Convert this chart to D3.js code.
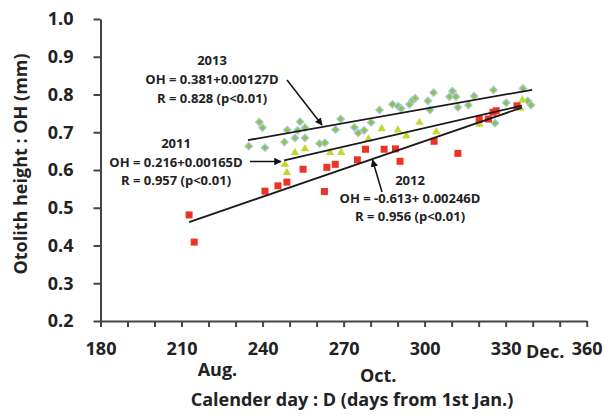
<!DOCTYPE html>
<html lang="en">
  <head>
    <meta charset="utf-8">
    <title>Otolith height</title>
    <script src="https://d3js.org/d3.v7.min.js"></script>
    <style>
      body { margin: 0; background: #fff; }
      text { font-family: "Open Sans", sans-serif; font-weight: bold; fill: #222; }
    </style>
  </head>
  <body>
    <script>
// 2013 (diamonds)
const days2013 = [238.8, 240.0, 234.9, 240.9, 249.1, 253.9, 253.0, 255.7, 248.1, 252.0, 255.7,
  261.1, 263.1, 267.0, 268.9, 274.0, 275.4, 277.6, 280.2, 283.3, 288.1, 290.2, 291.3, 294.4,
  295.5, 296.5, 301.2, 302.0, 303.3, 309.2, 310.3, 311.6, 312.3, 316.2, 318.3, 325.5, 330.2,
  336.4, 338.2, 339.4, 326.1]
const oh2013 = [0.727, 0.712, 0.663, 0.659, 0.706, 0.728, 0.705, 0.712, 0.674, 0.685, 0.685,
  0.670, 0.672, 0.707, 0.735, 0.713, 0.698, 0.705, 0.726, 0.759, 0.774, 0.769, 0.763, 0.774,
  0.785, 0.790, 0.783, 0.759, 0.805, 0.794, 0.809, 0.794, 0.766, 0.772, 0.796, 0.812, 0.778,
  0.816, 0.783, 0.772, 0.724]

// 2011 (triangles)
const days2011 = [252.0, 255.7, 265.0, 269.1, 248.3, 249.0, 279.2, 284.1, 290.1, 293.2, 298.1,
  304.3, 320.3, 336.2, 335.4]
const oh2011 = [0.646, 0.656, 0.646, 0.646, 0.615, 0.593, 0.682, 0.709, 0.706, 0.690, 0.726,
  0.701, 0.721, 0.785, 0.763]

// 2012 (squares)
const days2012 = [212.8, 214.7, 240.9, 245.7, 249.0, 255.0, 263.8, 262.9, 266.9, 275.1, 278.1,
  285.0, 289.2, 290.9, 303.5, 312.3, 320.2, 323.6, 325.3, 326.5, 334.2]
const oh2012 = [0.481, 0.409, 0.544, 0.558, 0.568, 0.602, 0.607, 0.543, 0.615, 0.627, 0.655,
  0.655, 0.656, 0.623, 0.676, 0.644, 0.734, 0.735, 0.753, 0.757, 0.770]

// regression lines: [intercept, slope, first day, last day]
const fit2013 = [0.381, 0.00127, 234.6, 339.8]
const fit2011 = [0.216, 0.00165, 248, 336]
const fit2012 = [-0.0613, 0.00246, 212.8, 336]

const label2013 = ['2013', 'OH = 0.381+0.00127D', 'R = 0.828 (p<0.01)']
const label2011 = ['2011', 'OH = 0.216+0.00165D', 'R = 0.957 (p<0.01)']
const label2012 = ['2012', 'OH = -0.613+ 0.00246D', 'R = 0.956 (p<0.01)']

const yTicks = [0.2, 0.3, 0.4, 0.5, 0.6, 0.7, 0.8, 0.9, 1.0]
const xTicks = d3.range(180, 361, 10)
const xLabels = [180, 210, 240, 270, 300, 330, 360]
const months = ['Aug.', 'Oct.', 'Dec.']
const monthDays = [223.3, 282.8, 344.6]

const width = 604, height = 417

const svg = d3.select('body').append('svg')
  .attr('width', width)
  .attr('height', height)

svg.append('defs').append('marker')
  .attr('id', 'arrow')
  .attr('viewBox', '0 0 10 10')
  .attr('refX', 9).attr('refY', 5)
  .attr('markerWidth', 5).attr('markerHeight', 5)
  .attr('orient', 'auto')
  .append('path')
  .attr('d', 'M0,0L10,5L0,10z')
  .attr('fill', '#111')

const x = d3.scaleLinear().domain([180, 360]).range([100.5, 586.7])
const y = d3.scaleLinear().domain([0.2, 1.0]).range([321, 19])

// axes
const yAxis = svg.append('g')
  .attr('transform', `translate(${x(180)},0)`)
  .call(d3.axisLeft(y).tickValues(yTicks).tickSize(7).tickSizeOuter(0).tickFormat(d3.format('.1f')))
yAxis.selectAll('text').attr('font-size', 18).attr('x', -27)

const xAxis = svg.append('g')
  .attr('transform', `translate(0,${y(0.2)})`)
  .call(d3.axisBottom(x).tickValues(xTicks).tickSize(6).tickSizeOuter(0)
    .tickFormat(d => xLabels.includes(d) ? d : ''))
xAxis.selectAll('text').attr('font-size', 18).attr('dy', '1.4em')

svg.selectAll('.domain, .tick line')
  .attr('stroke', '#444')
  .attr('stroke-width', 2)
svg.selectAll('.tick text').attr('fill', '#222')

// month names under the x axis
const monthRows = [371, 377, 353]
svg.selectAll('.month')
  .data(months)
  .join('text')
  .attr('class', 'month')
  .attr('x', (d, i) => x(monthDays[i]))
  .attr('y', (d, i) => monthRows[i])
  .attr('text-anchor', 'middle')
  .attr('dominant-baseline', 'middle')
  .attr('font-size', 18)
  .text(d => d)

svg.append('text')
  .attr('x', 352)
  .attr('y', 401)
  .attr('text-anchor', 'middle')
  .attr('dominant-baseline', 'middle')
  .attr('font-size', 18)
  .text('Calender day : D (days from 1st Jan.)')

svg.append('text')
  .attr('transform', 'translate(22,164) rotate(-90)')
  .attr('text-anchor', 'middle')
  .attr('dominant-baseline', 'middle')
  .attr('font-size', 18)
  .text('Otolith height : OH (mm)')

// points
const diamond = d3.symbol().type(d3.symbolDiamond2).size(36)
svg.append('g').selectAll('path')
  .data(days2013)
  .join('path')
  .attr('transform', (d, i) => `translate(${x(d)},${y(oh2013[i])})`)
  .attr('d', diamond)
  .attr('fill', '#8cc63f')
  .attr('stroke', '#aac6e6')
  .attr('stroke-width', 1.2)

const tri = d3.symbol().type(d3.symbolTriangle).size(30)
svg.append('g').selectAll('path')
  .data(days2011)
  .join('path')
  .attr('transform', (d, i) => `translate(${x(d)},${y(oh2011[i])})`)
  .attr('d', tri)
  .attr('fill', '#c3d632')

svg.append('g').selectAll('rect')
  .data(days2012)
  .join('rect')
  .attr('x', d => x(d) - 3.5)
  .attr('y', (d, i) => y(oh2012[i]) - 3.5)
  .attr('width', 7)
  .attr('height', 7)
  .attr('fill', '#ec3326')

// regression lines
const fits = [fit2013, fit2011, fit2012]
svg.append('g').selectAll('line')
  .data(fits)
  .join('line')
  .attr('x1', d => x(d[2]))
  .attr('y1', d => y(d[0] + d[1] * d[2]))
  .attr('x2', d => x(d[3]))
  .attr('y2', d => y(d[0] + d[1] * d[3]))
  .attr('stroke', '#1a1a1a')
  .attr('stroke-width', 1.8)

// annotations
const drawLabel = (lines, cx, top, gap) => {
  svg.append('g').selectAll('text')
    .data(lines)
    .join('text')
    .attr('x', cx)
    .attr('y', (d, i) => top + i * gap)
    .attr('text-anchor', 'middle')
    .attr('dominant-baseline', 'middle')
    .attr('font-size', 13)
    .text(d => d)
}
drawLabel(label2013, 212, 62, 19)
drawLabel(label2011, 176, 145, 18.5)
drawLabel(label2012, 410, 182, 18)

const arrow = (x1, y1, x2, y2) => svg.append('line')
  .attr('x1', x1).attr('y1', y1).attr('x2', x2).attr('y2', y2)
  .attr('stroke', '#111')
  .attr('stroke-width', 1.5)
  .attr('marker-end', 'url(#arrow)')

arrow(287, 80, 322, 125)
arrow(250, 161.5, 281, 161.5)
arrow(382, 192, 372.5, 160)
    </script>
  </body>
</html>
